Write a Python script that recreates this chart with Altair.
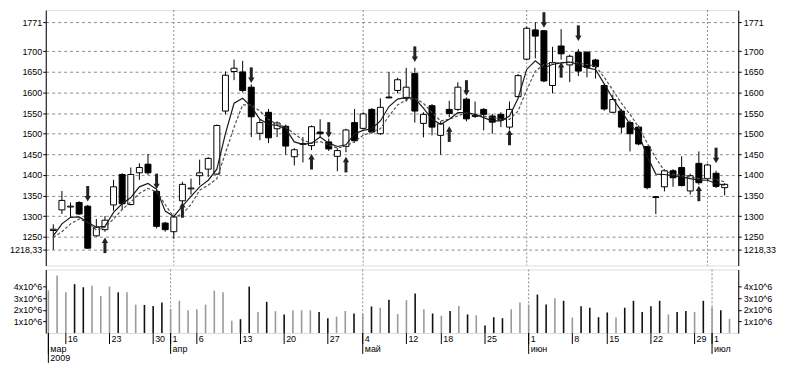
import altair as alt
import pandas as pd

# ---------------- data ----------------
opens = [1265, 1315, 1322, 1333, 1324, 1252, 1267, 1327, 1401, 1328,
         1405, 1426, 1360, 1283, 1262, 1337, 1366, 1398, 1414, 1402,
         1555, 1651, 1650, 1613, 1501, 1552, 1512, 1518, 1444, 1474,
         1471, 1504, 1480, 1445, 1469, 1527, 1513, 1559, 1500, 1589,
         1605, 1586, 1646, 1525, 1568, 1496, 1559, 1559, 1584, 1542,
         1559, 1543, 1547, 1516, 1590, 1681, 1752, 1750, 1617, 1713,
         1667, 1698, 1698, 1679, 1617, 1552, 1555, 1527, 1516, 1469,
         1347, 1371, 1410, 1418, 1361, 1428, 1391, 1404, 1369]
highs = [1280, 1361, 1333, 1336, 1327, 1293, 1300, 1388, 1404, 1418,
         1428, 1451, 1363, 1286, 1300, 1383, 1391, 1437, 1443, 1522,
         1651, 1680, 1677, 1620, 1535, 1560, 1530, 1522, 1465, 1492,
         1520, 1535, 1488, 1465, 1512, 1560, 1552, 1562, 1586, 1650,
         1636, 1660, 1660, 1552, 1572, 1530, 1580, 1625, 1588, 1578,
         1562, 1548, 1552, 1578, 1645, 1760, 1771, 1752, 1711, 1754,
         1692, 1705, 1700, 1682, 1620, 1595, 1560, 1532, 1520, 1470,
         1348, 1414, 1414, 1445, 1403, 1457, 1427, 1410, 1380]
lows = [1218.33, 1305, 1297, 1303, 1220, 1250, 1262, 1313, 1315, 1326,
        1388, 1400, 1270, 1262, 1245, 1325, 1352, 1375, 1395, 1400,
        1547, 1630, 1600, 1492, 1484, 1477, 1492, 1449, 1423, 1430,
        1460, 1490, 1458, 1409, 1455, 1478, 1510, 1500, 1497, 1586,
        1598, 1578, 1527, 1491, 1496, 1449, 1540, 1555, 1530, 1538,
        1508, 1500, 1516, 1510, 1588, 1678, 1683, 1625, 1598, 1680,
        1625, 1640, 1637, 1634, 1556, 1550, 1501, 1457, 1472, 1365,
        1305, 1360, 1371, 1372, 1352, 1376, 1385, 1368, 1350]
closes = [1268, 1338, 1324, 1305, 1222, 1273, 1290, 1371, 1330, 1401,
          1418, 1405, 1275, 1267, 1298, 1377, 1368, 1405, 1440, 1520,
          1642, 1659, 1605, 1541, 1527, 1490, 1526, 1470, 1461, 1476,
          1517, 1500, 1463, 1459, 1509, 1483, 1548, 1504, 1564, 1587,
          1631, 1613, 1555, 1547, 1516, 1524, 1549, 1613, 1536, 1544,
          1547, 1528, 1533, 1559, 1641, 1756, 1737, 1628, 1673, 1694,
          1688, 1652, 1661, 1663, 1560, 1583, 1516, 1500, 1475, 1369,
          1345, 1410, 1393, 1374, 1398, 1381, 1424, 1372, 1377]
volumes_mln = [3.69, 4.97, 3.52, 4.23, 3.96, 4.10, 3.20, 4.02, 3.52, 3.52,
               2.46, 2.43, 2.35, 2.65, 2.10, 2.79, 1.97, 2.05, 2.46, 3.66,
               3.52, 1.07, 1.20, 4.02, 1.83, 2.70, 1.89, 1.61, 1.97, 1.97,
               1.97, 1.83, 1.28, 1.42, 1.91, 1.69, 1.69, 2.30, 2.19, 2.87,
               1.64, 2.84, 3.42, 2.05, 1.69, 1.50, 1.91, 2.35, 1.61, 1.53,
               0.66, 1.37, 1.28, 2.05, 2.65, 2.46, 3.33, 2.46, 3.01, 2.79,
               1.34, 2.32, 2.19, 1.37, 1.78, 1.34, 2.19, 2.79, 1.83, 2.32,
               2.79, 1.61, 1.83, 1.91, 1.83, 2.79, 2.24, 1.97, 1.23]
ma_fast = [1252, 1281, 1297, 1298, 1285, 1273, 1275, 1309, 1330, 1345,
           1371, 1379, 1365, 1312, 1299, 1324, 1348, 1371, 1387, 1414,
           1500, 1574, 1586, 1566, 1535, 1523, 1520, 1512, 1480, 1474,
           1477, 1492, 1477, 1469, 1473, 1500, 1508, 1512, 1531, 1566,
           1584, 1588, 1586, 1562, 1535, 1523, 1535, 1551, 1551, 1547,
           1539, 1531, 1531, 1543, 1586, 1656, 1677, 1660, 1668, 1672,
           1674, 1668, 1660, 1656, 1621, 1586, 1555, 1523, 1500, 1445,
           1402, 1401, 1398, 1395, 1391, 1387, 1387, 1379, 1375]
ma_slow = [1248, 1262, 1281, 1293, 1285, 1266, 1273, 1293, 1316, 1334,
           1355, 1367, 1359, 1328, 1297, 1305, 1328, 1363, 1375, 1391,
           1453, 1516, 1570, 1570, 1555, 1535, 1522, 1516, 1500, 1484,
           1477, 1481, 1473, 1465, 1470, 1481, 1496, 1504, 1512, 1543,
           1570, 1582, 1586, 1574, 1551, 1531, 1535, 1543, 1551, 1547,
           1543, 1539, 1535, 1535, 1555, 1606, 1652, 1668, 1672, 1672,
           1674, 1672, 1668, 1664, 1637, 1606, 1574, 1547, 1516, 1477,
           1441, 1410, 1402, 1398, 1395, 1391, 1391, 1389, 1383]

sell_idx = [4, 12, 23, 32, 42, 48, 57, 61, 77]
sell_tip = [1337, 1367, 1625, 1492, 1676, 1594, 1759, 1727, 1430]
buy_idx = [6, 15, 30, 34, 46, 53, 59, 75]
buy_tip = [1246, 1332, 1449, 1442, 1516, 1508, 1672, 1372]

week_idx = [2, 7, 12, 14, 17, 22, 27, 32, 36, 41, 45, 50, 55, 60, 64, 69, 74, 76]
week_lbl = ["16", "23", "30", "1", "6", "13", "20", "27", "4", "12", "18",
            "25", "1", "8", "15", "22", "29", "1"]
month_idx = [0, 14, 36, 55, 76]
month_lbl = ["мар", "апр", "май", "июн", "июл"]
year_idx = [0]
year_lbl = ["2009"]
month_grid_idx = [14, 36, 55, 76]
price_ticks = [1218.33, 1250, 1300, 1350, 1400, 1450, 1500, 1550, 1600, 1650, 1700, 1771]
vol_ticks = [1e6, 2e6, 3e6, 4e6]

# ---------------- tables ----------------
n = len(opens)
df = pd.DataFrame({"i": list(range(n)), "open": opens, "high": highs, "low": lows,
                   "close": closes, "ma_fast": ma_fast, "ma_slow": ma_slow})
df["body_lo"] = df[["open", "close"]].min(axis=1)
df["body_hi"] = df[["open", "close"]].max(axis=1)
df["dir"] = ["up" if c >= o else "down" for o, c in zip(opens, closes)]
df["vol"] = [v * 1e6 for v in volumes_mln]
df["zero"] = 0

ARROW_LEN = 36   # price units
HEAD = 7
sell = pd.DataFrame({"i": sell_idx, "tip": sell_tip})
sell["tail"] = sell["tip"] + ARROW_LEN
sell["neck"] = sell["tip"] + HEAD
buy = pd.DataFrame({"i": buy_idx, "tip": buy_tip})
buy["tail"] = buy["tip"] - ARROW_LEN
buy["neck"] = buy["tip"] - HEAD

weeks = pd.DataFrame({"i": week_idx, "lbl": week_lbl})
months = pd.DataFrame({"i": month_idx, "lbl": month_lbl})
years = pd.DataFrame({"i": year_idx, "lbl": year_lbl})
mgrid = pd.DataFrame({"i": month_grid_idx})

# ---------------- styling ----------------
FONT = "Liberation Sans"
FS = 9
W = 697
H1 = 257
H2 = 64

xs = alt.Scale(domain=[-0.3, 79.0], nice=False, zero=False)
ys = alt.Scale(domain=[1180, 1800], nice=False, zero=False)
vs = alt.Scale(domain=[0, 5.5e6], nice=False, zero=True)
X = alt.X("i:Q", scale=xs, axis=None)

common_axis = dict(title=None, tickSize=3, tickColor="black", domainColor="black",
                   labelFont=FONT, labelFontSize=FS, labelColor="black",
                   labelOverlap=False, labelFlush=False)
price_lbl = "replace(toString(datum.value), '.', ',')"
left_price = alt.Axis(orient="left", values=price_ticks, labelExpr=price_lbl, grid=True,
                      gridDash=[3, 3], gridColor="#8a8a8a", labelPadding=1,
                      minExtent=36, maxExtent=36, **common_axis)
right_price = alt.Axis(orient="right", values=price_ticks, labelExpr=price_lbl, grid=False,
                       labelPadding=2, **common_axis)
vol_lbl = "format(datum.value / 1000000, 'd') + 'x10^6'"
left_vol = alt.Axis(orient="left", values=vol_ticks, labelExpr=vol_lbl, grid=False,
                    labelPadding=1, minExtent=36, maxExtent=36, **common_axis)
right_vol = alt.Axis(orient="right", values=vol_ticks, labelExpr=vol_lbl, grid=False,
                     labelPadding=2, **common_axis)

# ---------------- main (price) panel ----------------
grid_main = alt.Chart(mgrid).mark_rule(color="#8a8a8a", strokeDash=[2, 2]).encode(x=X)
wicks = alt.Chart(df).mark_rule(color="black", strokeWidth=1).encode(
    x=X, y=alt.Y("low:Q", scale=ys, axis=left_price), y2="high:Q")
bodies = alt.Chart(df).mark_bar(size=6, stroke="black", strokeWidth=1, orient="vertical").encode(
    x=X, y=alt.Y("body_lo:Q", scale=ys, axis=right_price), y2="body_hi:Q",
    fill=alt.Color("dir:N", scale=alt.Scale(domain=["up", "down"], range=["white", "black"]),
                   legend=None))
slow = alt.Chart(df).mark_line(color="#505050", strokeDash=[3, 2], strokeWidth=1.2).encode(
    x=X, y=alt.Y("ma_slow:Q", scale=ys, axis=None))
fast = alt.Chart(df).mark_line(color="#1a1a1a", strokeWidth=1.2).encode(
    x=X, y=alt.Y("ma_fast:Q", scale=ys, axis=None))
sell_shaft = alt.Chart(sell).mark_rule(color="#222", strokeWidth=3).encode(
    x=X, y=alt.Y("tail:Q", scale=ys, axis=None), y2="neck:Q")
sell_head = alt.Chart(sell).mark_point(shape="triangle-down", filled=True, color="#222",
                                       size=40, opacity=1, yOffset=-2).encode(
    x=X, y=alt.Y("tip:Q", scale=ys, axis=None))
buy_shaft = alt.Chart(buy).mark_rule(color="#222", strokeWidth=3).encode(
    x=X, y=alt.Y("tail:Q", scale=ys, axis=None), y2="neck:Q")
buy_head = alt.Chart(buy).mark_point(shape="triangle-up", filled=True, color="#222",
                                     size=40, opacity=1, yOffset=2).encode(
    x=X, y=alt.Y("tip:Q", scale=ys, axis=None))

main = alt.layer(grid_main, wicks, bodies, slow, fast, sell_shaft, sell_head,
                 buy_shaft, buy_head).resolve_axis(y="independent").properties(
    width=W, height=H1)

# ---------------- volume panel ----------------
grid_vol = alt.Chart(mgrid).mark_rule(color="#8a8a8a", strokeDash=[2, 2]).encode(x=X)
vol_bars = alt.Chart(df).mark_rule(strokeWidth=1.6).encode(
    x=X, y=alt.Y("vol:Q", scale=vs, axis=left_vol), y2="zero:Q",
    color=alt.Color("dir:N", scale=alt.Scale(domain=["up", "down"], range=["#9a9a9a", "#111111"]),
                    legend=None))
vol_right = alt.Chart(df).mark_point(opacity=0).encode(
    x=X, y=alt.Y("vol:Q", scale=vs, axis=right_vol))
week_ticks = alt.Chart(weeks).mark_rule(color="black").encode(
    x=X, y=alt.value(H2), y2=alt.value(H2 + 11))
week_text = alt.Chart(weeks).mark_text(align="left", baseline="top", dx=2, font=FONT,
                                       fontSize=FS, color="black").encode(
    x=X, y=alt.value(H2 + 2), text="lbl:N")
month_ticks = alt.Chart(months).mark_rule(color="black").encode(
    x=X, y=alt.value(H2), y2=alt.value(H2 + 21))
month_text = alt.Chart(months).mark_text(align="left", baseline="top", dx=2, font=FONT,
                                         fontSize=FS, color="black").encode(
    x=X, y=alt.value(H2 + 12), text="lbl:N")
year_ticks = alt.Chart(years).mark_rule(color="black").encode(
    x=X, y=alt.value(H2), y2=alt.value(H2 + 30))
year_text = alt.Chart(years).mark_text(align="left", baseline="top", dx=2, font=FONT,
                                       fontSize=FS, color="black").encode(
    x=X, y=alt.value(H2 + 21), text="lbl:N")

vol = alt.layer(grid_vol, vol_bars, vol_right, week_ticks, week_text, month_ticks,
                month_text, year_ticks, year_text).resolve_axis(y="independent").properties(
    width=W, height=H2)

chart = alt.vconcat(main, vol, spacing=2).properties(
    padding={"left": 0, "top": 0, "right": 0, "bottom": 0}
).configure_view(stroke="black", strokeWidth=1).configure(background="white")

chart.save("out.html", embed_options={"renderer": "svg", "actions": False})
